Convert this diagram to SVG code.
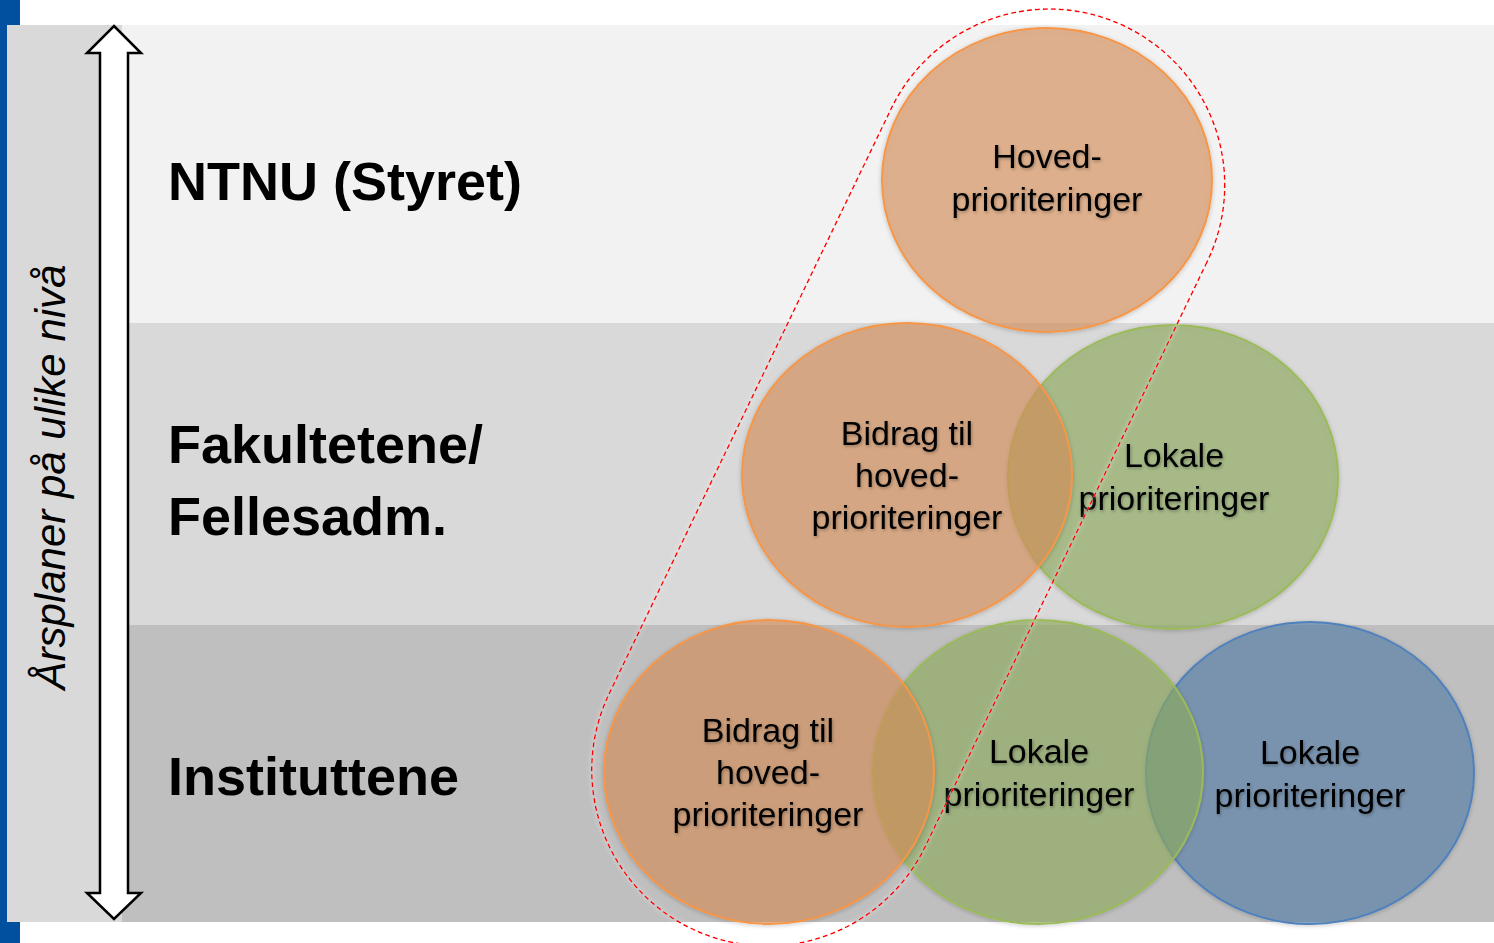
<svg xmlns="http://www.w3.org/2000/svg" width="1494" height="943" viewBox="0 0 1494 943">
  <defs>
    <filter id="shadow" x="-10%" y="-10%" width="120%" height="120%">
      <feDropShadow dx="0" dy="1" stdDeviation="2" flood-color="#000" flood-opacity="0.25"/>
    </filter>
    <filter id="tshadow" x="-5%" y="-20%" width="110%" height="140%">
      <feDropShadow dx="1" dy="1.5" stdDeviation="1.5" flood-color="#000" flood-opacity="0.3"/>
    </filter>
    <filter id="glow" x="-10%" y="-10%" width="120%" height="120%">
      <feDropShadow dx="0" dy="0" stdDeviation="2" flood-color="#fff" flood-opacity="0.9"/>
    </filter>
  </defs>
  <style>
    .lvl { font-family: "Liberation Sans", Arial, sans-serif; font-weight: bold; font-size: 54px; fill: #000; }
    .side { font-family: "Liberation Sans", Arial, sans-serif; font-style: italic; font-size: 42px; fill: #000; }
    .ct { font-family: "Liberation Sans", Arial, sans-serif; font-size: 34px; fill: #000; text-anchor: middle; }
    .or { fill: #DA935A; fill-opacity: 0.6; stroke: #F79646; stroke-width: 2; }
    .gr { fill: #93AF61; fill-opacity: 0.6; stroke: #9BBB59; stroke-width: 2; }
    .bl { fill: #5982AD; fill-opacity: 0.6; stroke: #4F81BD; stroke-width: 2; }
    .dash { fill: none; stroke: #FF0000; stroke-width: 1.6; stroke-dasharray: 5 3; }
  </style>

  <!-- background -->
  <rect x="0" y="0" width="1494" height="943" fill="#FFFFFF"/>
  <rect x="0" y="0" width="20" height="943" fill="#00509F"/>
  <rect x="122" y="25" width="1372" height="298" fill="#F2F2F2"/>
  <rect x="122" y="323" width="1372" height="302" fill="#D9D9D9"/>
  <rect x="122" y="625" width="1372" height="297" fill="#BFBFBF"/>
  <rect x="7" y="25" width="115" height="897" fill="#D9D9D9"/>

  <!-- vertical double arrow -->
  <g id="axis-arrow">
    <polygon points="114,26 141,53 128,53 128,893 141,893 114,919 87,893 100,893 100,53 87,53" fill="#FFFFFF" stroke="#000" stroke-width="2.5" stroke-linejoin="miter"/>
  </g>
  <g id="axis-label">
    <text class="side" transform="translate(65,477) rotate(-90)" text-anchor="middle">Årsplaner på ulike nivå</text>
  </g>

  <!-- level labels -->
  <g id="level-ntnu"><text class="lvl" x="168" y="200">NTNU (Styret)</text></g>
  <g id="level-fak">
    <text class="lvl" x="168" y="463">Fakultetene/</text>
    <text class="lvl" x="168" y="535">Fellesadm.</text>
  </g>
  <g id="level-inst"><text class="lvl" x="168" y="795">Instituttene</text></g>

  <!-- circles -->
  <g id="ntnu-hoved" filter="url(#shadow)">
    <ellipse class="or" cx="1047" cy="180" rx="165" ry="152"/>
  </g>
  <g id="fak-lokale" filter="url(#shadow)">
    <ellipse class="gr" cx="1173" cy="477" rx="165" ry="152"/>
  </g>
  <g id="fak-bidrag" filter="url(#shadow)">
    <ellipse class="or" cx="907" cy="475" rx="165" ry="152"/>
  </g>
  <g id="inst-lokale-2" filter="url(#shadow)">
    <ellipse class="bl" cx="1310" cy="773" rx="164" ry="151"/>
  </g>
  <g id="inst-lokale-1" filter="url(#shadow)">
    <ellipse class="gr" cx="1038" cy="772" rx="165" ry="152"/>
  </g>
  <g id="inst-bidrag" filter="url(#shadow)">
    <ellipse class="or" cx="769" cy="772" rx="165" ry="152"/>
  </g>

  <!-- circle texts -->
  <g id="texts" filter="url(#tshadow)">
    <text class="ct" x="1047" y="168">Hoved-</text>
    <text class="ct" x="1047" y="211">prioriteringer</text>

    <text class="ct" x="907" y="445">Bidrag til</text>
    <text class="ct" x="907" y="487">hoved-</text>
    <text class="ct" x="907" y="529">prioriteringer</text>

    <text class="ct" x="1174" y="467">Lokale</text>
    <text class="ct" x="1174" y="510">prioriteringer</text>

    <text class="ct" x="768" y="742">Bidrag til</text>
    <text class="ct" x="768" y="784">hoved-</text>
    <text class="ct" x="768" y="826">prioriteringer</text>

    <text class="ct" x="1039" y="763">Lokale</text>
    <text class="ct" x="1039" y="806">prioriteringer</text>

    <text class="ct" x="1310" y="764">Lokale</text>
    <text class="ct" x="1310" y="807">prioriteringer</text>
  </g>

  <!-- dashed grouping outline -->
  <g id="connectors">
    <path class="dash" filter="url(#glow)" d="M 1207 262 L 925 847 A 176 176 0 0 1 768 946 A 176 176 0 0 1 609.5 693 L 891.5 108 A 176 176 0 0 1 1050 9 A 176 176 0 0 1 1207 262 Z"/>
  </g>
</svg>
